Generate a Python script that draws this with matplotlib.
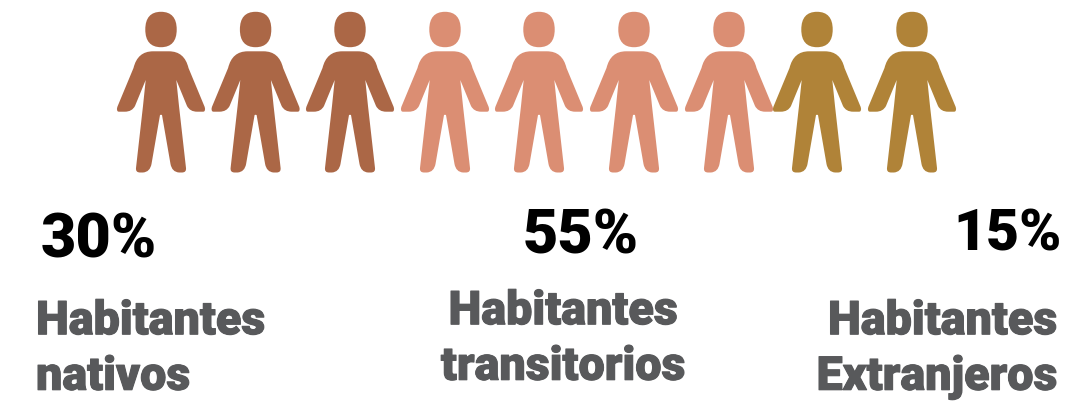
import matplotlib
matplotlib.use("Agg")
import matplotlib.pyplot as plt
import matplotlib.patheffects as pe
from matplotlib.path import Path
from matplotlib.patches import PathPatch

group_names = ["Habitantes\nnativos", "Habitantes\ntransitorios", "Habitantes\nExtranjeros"]
group_shares = [30, 55, 15]
group_icons = [3, 4, 2]
group_colors = ["#AB6746", "#DB8E73", "#B08338"]
icon_centers = [161, 255.6, 350, 445, 539, 634, 729, 817, 912]

C = Path.CURVE3
L = Path.LINETO
half = [
    (0, 52.3, Path.MOVETO),
    (8, 52.3, L),
    (23.5, 52.3, C), (27.5, 69, C),
    (43.7, 108, L),
    (45, 112.7, C), (42, 112.7, C),
    (36, 112.7, L),
    (29, 112.7, C), (26, 107, C),
    (15.3, 81, L),
    (18, 107, L),
    (25, 169, L),
    (25.5, 173.5, C), (21, 173.5, C),
    (18, 173.5, L),
    (11, 173, C), (9.5, 165, C),
    (1, 116, L),
    (0, 115.5, C),
]


def body_path(cx):
    verts = [(cx + x, y) for x, y, _ in half]
    codes = [c for _, _, c in half]
    mirrored = list(reversed(half))
    for i in range(len(mirrored) - 1):
        x, y, _ = mirrored[i + 1]
        verts.append((cx - x, y))
        codes.append(mirrored[i][2] if mirrored[i][2] != Path.MOVETO else L)
    verts.append((cx, 52.3))
    codes.append(Path.CLOSEPOLY)
    return Path(verts, codes)


def head_path(cx):
    rx, ry, cy, k = 15.7, 17.7, 30.5, 0.66
    C4 = Path.CURVE4
    verts = [(cx, cy - ry),
             (cx + k * rx, cy - ry), (cx + rx, cy - k * ry), (cx + rx, cy),
             (cx + rx, cy + k * ry), (cx + k * rx, cy + ry), (cx, cy + ry),
             (cx - k * rx, cy + ry), (cx - rx, cy + k * ry), (cx - rx, cy),
             (cx - rx, cy - k * ry), (cx - k * rx, cy - ry), (cx, cy - ry)]
    codes = [Path.MOVETO] + [C4] * 12
    return Path(verts, codes)


fig = plt.figure(figsize=(10.71, 4.10), dpi=100)
ax = fig.add_axes([0, 0, 1, 1])
ax.set_xlim(0, 1071)
ax.set_ylim(410, 0)
ax.axis("off")

colors = [c for c, n in zip(group_colors, group_icons) for _ in range(n)]
for cx, col in zip(icon_centers, colors):
    ax.add_patch(PathPatch(body_path(cx), fc=col, ec="none"))
    ax.add_patch(PathPatch(head_path(cx), fc=col, ec="none"))

font = "Roboto"
share_pos = [(41, 241, "left", 44), (523, 237, "left", 44), (1062, 235, "right", 41)]
for share, (x, y, ha, size) in zip(group_shares, share_pos):
    ax.text(x, y, f"{share}%", fontsize=size, fontweight="black", family=font,
            color="black", ha=ha, va="center")

label_pos = [(36, 350, "left"), (563, 340, "center"), (1057, 350, "right")]
for name, (x, y, ha) in zip(group_names, label_pos):
    ax.text(x, y, name, fontsize=33.6, fontweight="black", family=font,
            color="#58595B", ha=ha, va="center", linespacing=1.33,
            multialignment=ha,
            path_effects=[pe.withStroke(linewidth=0.8, foreground="#58595B")])

fig.savefig("out.png", dpi=100)
